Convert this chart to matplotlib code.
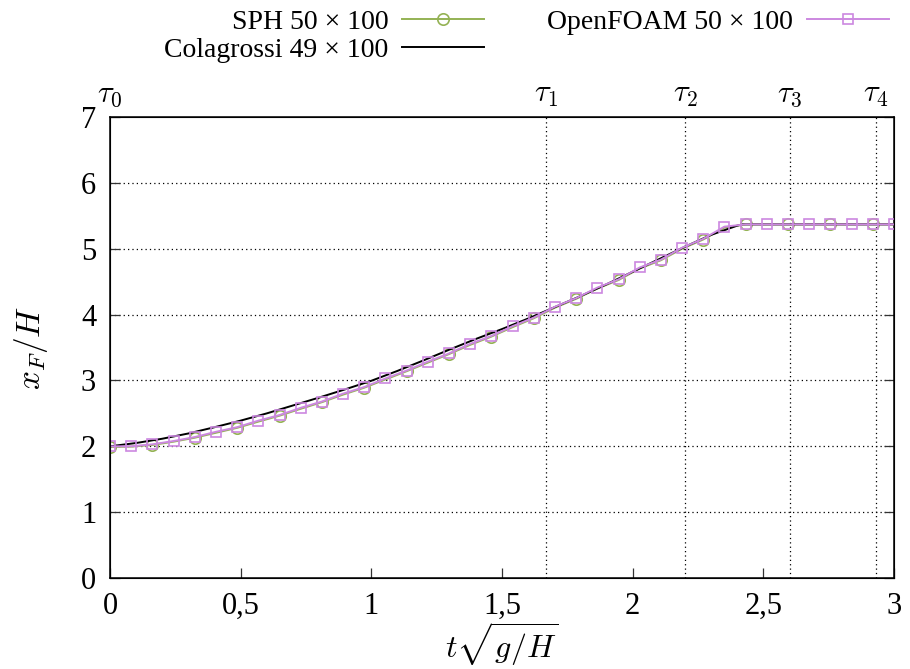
import matplotlib
matplotlib.use("Agg")
import matplotlib.pyplot as plt

plt.rcParams['font.family'] = ['Liberation Serif', 'DejaVu Serif']
plt.rcParams['mathtext.fontset'] = 'cm'

# Simulation samples (SPH and OpenFOAM share the same output times)
t_sim = [0.000, 0.081, 0.162, 0.243, 0.324, 0.405, 0.486, 0.568, 0.649, 0.730,
         0.811, 0.892, 0.973, 1.054, 1.135, 1.216, 1.297, 1.378, 1.459, 1.541,
         1.622, 1.703, 1.784, 1.865, 1.946, 2.027, 2.108, 2.189, 2.270, 2.351,
         2.432, 2.514, 2.595, 2.676, 2.757, 2.838, 2.919, 3.000]
x_openfoam = [2.00, 2.00, 2.03, 2.08, 2.14, 2.22, 2.29, 2.39, 2.475, 2.585,
              2.68, 2.80, 2.90, 3.03, 3.15, 3.285, 3.41, 3.555, 3.675, 3.825,
              3.955, 4.12, 4.25, 4.41, 4.535, 4.715, 4.835, 5.015, 5.15, 5.335,
              5.37, 5.37, 5.37, 5.37, 5.37, 5.37, 5.37, 5.37]
x_sph = [1.99, 1.995, 2.02, 2.07, 2.13, 2.205, 2.28, 2.375, 2.465, 2.57,
         2.67, 2.785, 2.89, 3.015, 3.14, 3.27, 3.40, 3.54, 3.665, 3.81,
         3.945, 4.105, 4.24, 4.395, 4.525, 4.70, 4.825, 5.00, 5.14, 5.32,
         5.37, 5.37, 5.37, 5.37, 5.37, 5.37, 5.37, 5.37]

# Colagrossi reference curve
t_col = [0.0, 0.1, 0.2, 0.3, 0.4, 0.5, 0.6, 0.7, 0.8, 0.9, 1.0, 1.1, 1.2, 1.3,
         1.4, 1.5, 1.6, 1.7, 1.8, 1.9, 2.0, 2.1, 2.2, 2.3, 2.4, 2.42, 3.0]
x_col = [2.00, 2.05, 2.115, 2.195, 2.29, 2.39, 2.50, 2.62, 2.74, 2.865,
         2.995, 3.145, 3.305, 3.47, 3.63, 3.78, 3.94, 4.11, 4.28, 4.46, 4.65,
         4.84, 5.03, 5.21, 5.35, 5.37, 5.37]

# Characteristic times
tau_pos = [0.0, 1.67, 2.202, 2.601, 2.93]
tau_labels = [r'$\tau_0$', r'$\tau_1$', r'$\tau_2$', r'$\tau_3$', r'$\tau_4$']

xticks = [0, 0.5, 1, 1.5, 2, 2.5, 3]
xtick_labels = ['0', '0,5', '1', '1,5', '2', '2,5', '3']
yticks = [0, 1, 2, 3, 4, 5, 6, 7]

labels = ['SPH 50 × 100', 'Colagrossi 49 × 100', 'OpenFOAM 50 × 100']

green = '#94b254'
violet = '#cc88e0'
fs = 20

fig = plt.figure(figsize=(9.10, 6.69), dpi=100)
ax = fig.add_axes([0.1209, 0.136, 0.8615, 0.6891])

for yv in yticks[1:-1]:
    ax.axhline(yv, color='black', lw=0.9, ls=(0, (1, 2.5)), zorder=1)
for tv in tau_pos[1:]:
    ax.axvline(tv, color='black', lw=0.9, ls=(0, (1, 2.5)), zorder=1)

ax.plot(t_sim, x_sph, color=green, lw=1.4, marker='o', markersize=8.2,
        markerfacecolor='none', markeredgewidth=1.2, markevery=2,
        label=labels[0], zorder=3)
ax.plot(t_col, x_col, color='black', lw=1.4, label=labels[1], zorder=4)
ax.plot(t_sim, x_openfoam, color=violet, lw=1.4, marker='s', markersize=6.5,
        markerfacecolor='none', markeredgewidth=1.2,
        label=labels[2], zorder=5)

ax.set_xlim(0, 3)
ax.set_ylim(0, 7)
ax.set_xticks(xticks)
ax.set_xticklabels(xtick_labels)
ax.set_yticks(yticks)
ax.tick_params(direction='in', length=7, width=0.9, labelsize=22, pad=10,
               right=True, top=False, color='#333333')
for s in ax.spines.values():
    s.set_linewidth(1.1)

ax.set_xlabel(r'$t\sqrt{g/H}$', fontsize=23, labelpad=0)
ax.set_ylabel(r'$x_F/H$', fontsize=24, labelpad=22)

ax2 = ax.twiny()
ax2.set_xlim(0, 3)
ax2.set_xticks(tau_pos)
ax2.set_xticklabels(tau_labels)
ax2.tick_params(length=0, labelsize=22, pad=6)

leg = fig.legend(loc='upper left', bbox_to_anchor=(0.1745, 0.994), ncol=2,
                 frameon=False, markerfirst=False, fontsize=fs,
                 handlelength=2.95, handletextpad=0.5, columnspacing=2.26,
                 labelspacing=0.08, numpoints=1, borderaxespad=0.0,
                 borderpad=0.2)
for txt in leg.get_texts():
    txt.set_ha('right')

fig.savefig('out.png', dpi=100)
